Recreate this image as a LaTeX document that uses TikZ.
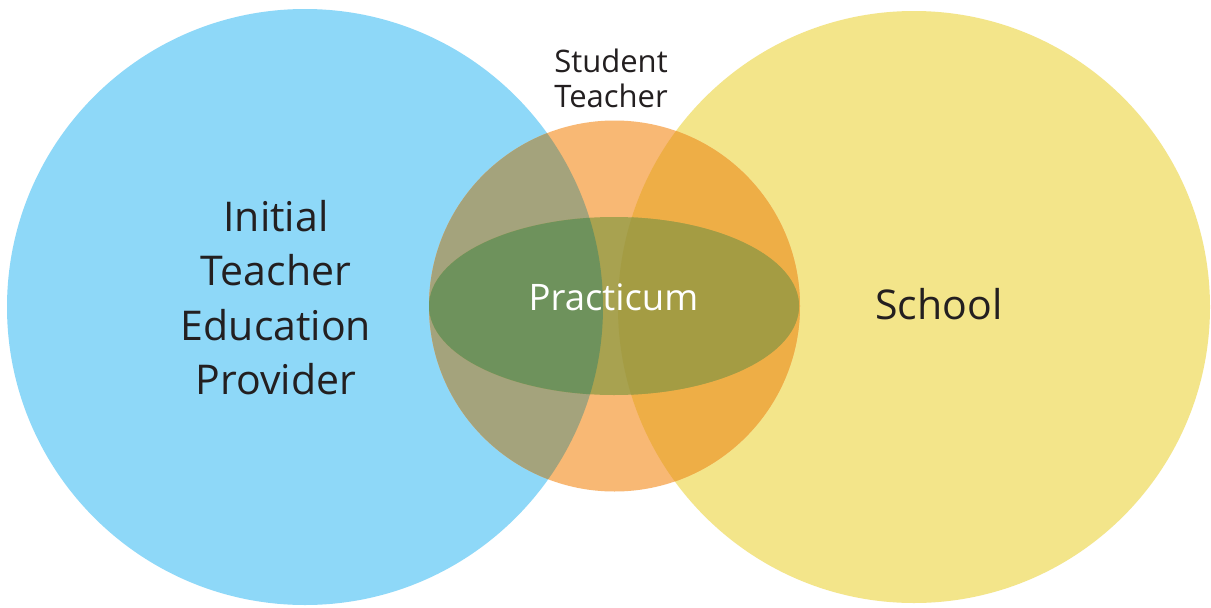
\documentclass[tikz,border=0pt]{standalone}
\usepackage{fontspec}
\setmainfont{Open Sans}
\definecolor{cblue}{HTML}{8ED8F8}
\definecolor{cyellow}{HTML}{F3E58A}
\definecolor{corange}{HTML}{F8B874}
\definecolor{cbo}{HTML}{A4A37C}
\definecolor{cyo}{HTML}{EEAE46}
\definecolor{cell}{HTML}{A8A250}
\definecolor{ceb}{HTML}{6E925C}
\definecolor{cey}{HTML}{A49C43}
\definecolor{ctext}{HTML}{231F20}
\tikzset{
  lbl/.style={text=ctext, align=center, inner sep=0pt},
  bigfont/.style={font=\fontsize{41}{54.5}\selectfont},
}
\begin{document}
\begin{tikzpicture}[x=1pt,y=-1pt]
\useasboundingbox (0,0) rectangle (1211,608);
\fill[white] (0,0) rectangle (1211,608);
\coordinate (B) at (305,307);
\coordinate (Y) at (914,307);
\coordinate (O) at (614.5,306);
\coordinate (E) at (614,306);
\fill[cblue] (B) circle[radius=298pt];
\fill[cyellow] (Y) circle[radius=296pt];
\fill[corange] (O) circle[radius=185.5pt];
\begin{scope}
  \clip (O) circle[radius=185.5pt];
  \fill[cbo] (B) circle[radius=298pt];
  \fill[cyo] (Y) circle[radius=296pt];
\end{scope}
\fill[cell] (E) ellipse[x radius=185pt, y radius=89pt];
\begin{scope}
  \clip (E) ellipse[x radius=185pt, y radius=89pt];
  \fill[ceb] (B) circle[radius=298pt];
  \fill[cey] (Y) circle[radius=296pt];
\end{scope}
\node[lbl, bigfont, anchor=base] (itep) at (276,394.5) {Initial\\Teacher\\Education\\Provider};
\node[lbl, bigfont, anchor=base] (school) at (939,319) {School};
\node[lbl, text=white, font=\fontsize{36.5}{44}\selectfont, anchor=base] (prac) at (613.5,310) {Practicum};
\node[lbl, font=\fontsize{31}{35}\selectfont, anchor=base] (st) at (611,107.5) {Student\\Teacher};
\end{tikzpicture}
\end{document}
